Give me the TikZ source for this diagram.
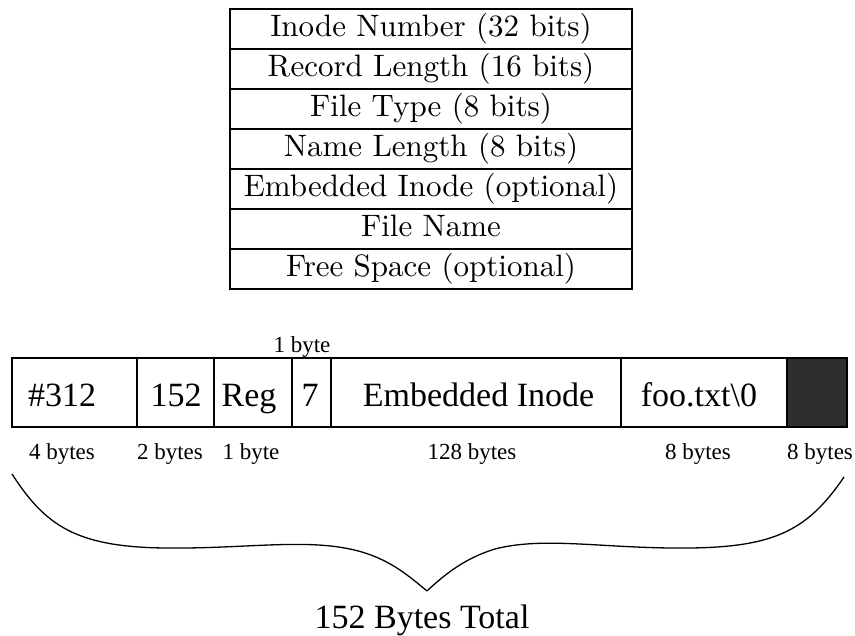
\documentclass[tikz,border=0pt]{standalone}
\usepackage{fontspec}
\newfontfamily\timesfont{Liberation Serif}
\newfontfamily\cmten[Extension=.otf]{lmroman10-regular}

\tikzset{
  field/.style={draw, line width=1.3pt, minimum width=402pt, minimum height=40pt,
    inner sep=0pt, font=\cmten\fontsize{31}{31}\selectfont, text height=23pt, text depth=7.75pt},
  cell/.style={draw, line width=1.4pt, minimum height=69pt, inner sep=0pt},
  val/.style={anchor=base, inner sep=0pt, font=\timesfont\fontsize{34}{34}\selectfont},
  size/.style={anchor=base, inner sep=0pt, font=\timesfont\fontsize{23}{23}\selectfont},
  brace/.style={line width=1.3pt, line join=round},
}

\begin{document}
\begin{tikzpicture}[x=1pt, y=-1pt]
\useasboundingbox (0,0) rectangle (855,636);

% directory entry layout
\node[field] (f1) at (431,29)  {Inode Number (32 bits)};
\node[field] (f2) at (431,69)  {Record Length (16 bits)};
\node[field] (f3) at (431,109) {File Type (8 bits)};
\node[field] (f4) at (431,149) {Name Length (8 bits)};
\node[field] (f5) at (431,189) {Embedded Inode (optional)};
\node[field] (f6) at (431,229) {File Name};
\node[field] (f7) at (431,269) {Free Space (optional)};

% example entry, one cell per field
\node[cell, minimum width=125pt] (c1) at (74.5,392.5) {};
\node[cell, minimum width=77pt]  (c2) at (175.5,392.5) {};
\node[cell, minimum width=78pt]  (c3) at (253,392.5) {};
\node[cell, minimum width=39pt]  (c4) at (311.5,392.5) {};
\node[cell, minimum width=290pt] (c5) at (476,392.5) {};
\node[cell, minimum width=166pt] (c6) at (704,392.5) {};
\node[cell, minimum width=60pt, fill=black!82] (c7) at (817,392.5) {};

\node[val] (v1) at (62,407) {\#312};
\node[val] (v2) at (176,407) {152};
\node[val] (v3) at (249,407) {Reg};
\node[val] (v4) at (310,407) {7};
\node[val] (v5) at (478.5,407) {Embedded Inode};
\node[val] (v6) at (699,407) {foo.txt\textbackslash 0};

% field sizes
\node[size] (s4) at (302,353) {1 byte};
\node[size] (s1) at (62,460)  {4 bytes};
\node[size] (s2) at (170,460) {2 bytes};
\node[size] (s3) at (251,460) {1 byte};
\node[size] (s5) at (472,460) {128 bytes};
\node[size] (s6) at (698,460) {8 bytes};
\node[size] (s7) at (820,460) {8 bytes};

% brace over the whole entry
\draw[brace] (12,474) .. controls (45,525) and (75,547) .. (165,548)
  .. controls (250,549) and (310,537) .. (362,552)
  .. controls (392,561) and (410,577) .. (427,591)
  .. controls (444,575) and (465,558) .. (495,549)
  .. controls (545,536) and (605,549) .. (690,548)
  .. controls (775,547) and (808,530) .. (844,477);

\node[anchor=base, inner sep=0pt, font=\timesfont\fontsize{34}{34}\selectfont] (total) at (422,628) {152 Bytes Total};
\end{tikzpicture}
\end{document}
